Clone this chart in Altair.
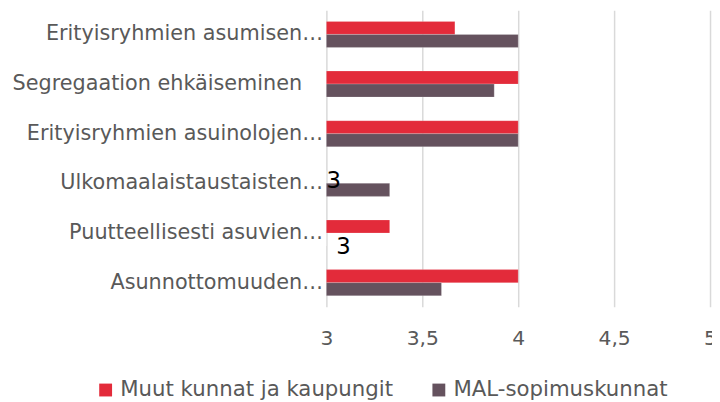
import altair as alt
import pandas as pd

categories = [
    "Erityisryhmien asumisen…",
    "Segregaation ehkäiseminen\u2002\u2002\u200b",
    "Erityisryhmien asuinolojen…",
    "Ulkomaalaistaustaisten…",
    "Puutteellisesti asuvien…",
    "Asunnottomuuden…",
]
series = ["Muut kunnat ja kaupungit", "MAL-sopimuskunnat"]
muut = [3.67, 4.0, 4.0, 3.0, 3.33, 4.0]
mal = [4.0, 3.875, 4.0, 3.33, 3.0, 3.6]
colors = ["#E32B3A", "#65525E"]
x_ticks = [3, 3.5, 4, 4.5, 5]

rows = []
for c, a, b in zip(categories, muut, mal):
    rows.append({"cat": c, "series": series[0], "value": a})
    rows.append({"cat": c, "series": series[1], "value": b})
df = pd.DataFrame(rows)
df["label"] = df["value"].apply(lambda v: "3" if v == 3.0 else "")

FONT = "DejaVu Sans"

y_enc = alt.Y("cat:N", sort=categories, title=None,
              scale=alt.Scale(paddingInner=0.475, paddingOuter=0.225),
              axis=alt.Axis(ticks=False, domain=False, grid=False, labelFontSize=21,
                            labelColor="#595959", labelPadding=4, labelLimit=400,
                            labelFont=FONT))
x_enc = alt.X("value:Q", title=None,
              scale=alt.Scale(domain=[3, 5], nice=False, clamp=False),
              axis=alt.Axis(values=x_ticks, ticks=False, domain=False,
                            grid=True, gridColor="#D9D9D9", gridWidth=1.5,
                            labelFontSize=20.5, labelColor="#595959", labelPadding=22,
                            labelFont=FONT, labelFlush=False,
                            labelExpr="replace(format(datum.value, '.1~f'), '.', ',')"))

base = alt.Chart(df)

bars = base.mark_bar(stroke="#ffffff", strokeOpacity=0.4, strokeWidth=0.5).encode(
    x=x_enc,
    x2=alt.datum(3),
    y=y_enc,
    yOffset=alt.YOffset("series:N", sort=series),
    color=alt.Color("series:N", sort=series,
                    scale=alt.Scale(domain=series, range=colors),
                    legend=alt.Legend(title=None, orient="none", direction="horizontal",
                                      legendX=-234, legendY=373,
                                      symbolType="square", symbolSize=169,
                                      labelFontSize=21.5, labelColor="#595959",
                                      labelFont=FONT, labelOffset=4, labelLimit=400,
                                      columnPadding=35, symbolStrokeWidth=0)),
)

lab1 = base.transform_filter(
    (alt.datum.label == "3") & (alt.datum.series == series[0])
).mark_text(align="left", baseline="middle", dx=0, dy=4, fontSize=23,
            color="#000000", font=FONT).encode(
    x="value:Q", y=alt.Y("cat:N", sort=categories),
    yOffset=alt.YOffset("series:N", sort=series), text="label:N")

lab2 = base.transform_filter(
    (alt.datum.label == "3") & (alt.datum.series == series[1])
).mark_text(align="left", baseline="middle", dx=10, dy=8, fontSize=23,
            color="#000000", font=FONT).encode(
    x="value:Q", y=alt.Y("cat:N", sort=categories),
    yOffset=alt.YOffset("series:N", sort=series), text="label:N")

chart = alt.layer(bars, lab1, lab2).properties(
    width=388, height=300,
    autosize=alt.AutoSizeParams(type="none"),
    padding={"left": 322, "top": 0, "right": 2, "bottom": 94},
).configure(font=FONT).configure_view(strokeWidth=0, stroke=None)

chart.save("out.html", embed_options={"renderer": "svg", "actions": False})
